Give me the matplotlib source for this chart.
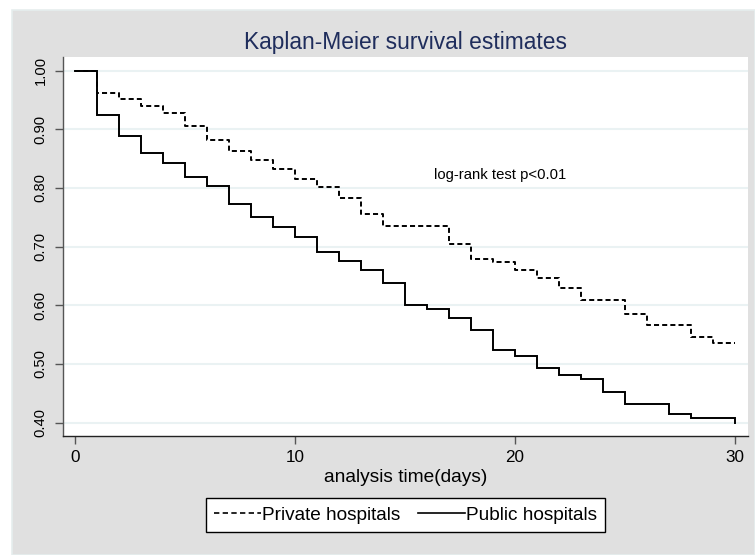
import numpy as np
import matplotlib.pyplot as plt
from matplotlib.patches import Rectangle
from matplotlib.lines import Line2D

# Kaplan-Meier ступенчатые оценки
days = list(range(0, 31))

private_surv = [1.000, 0.961, 0.952, 0.940, 0.928, 0.906, 0.881, 0.863, 0.848, 0.832,
                0.815, 0.801, 0.783, 0.756, 0.735, 0.735, 0.735, 0.705, 0.679, 0.674,
                0.660, 0.646, 0.630, 0.609, 0.609, 0.585, 0.566, 0.566, 0.546, 0.536,
                0.536]

public_surv = [1.000, 0.924, 0.889, 0.859, 0.843, 0.818, 0.804, 0.773, 0.751, 0.733,
               0.716, 0.691, 0.675, 0.660, 0.638, 0.600, 0.594, 0.579, 0.558, 0.524,
               0.513, 0.494, 0.482, 0.475, 0.453, 0.431, 0.431, 0.415, 0.408, 0.408,
               0.400]

x_ticks = [0, 10, 20, 30]
y_ticks = [0.40, 0.50, 0.60, 0.70, 0.80, 0.90, 1.00]

plt.rcParams['font.family'] = ['Liberation Sans', 'DejaVu Sans']

W, H = 755, 555
fig = plt.figure(figsize=(W / 100, H / 100), dpi=100)
fig.patch.set_facecolor('white')

# серый фон графика как в Stata
bg = Rectangle((12 / W, 0), 1 - 12 / W, 1 - 10 / H, transform=fig.transFigure,
               facecolor='#e0e0e0', edgecolor='#e6eeee', linewidth=1.2, zorder=-10)
fig.patches.append(bg)

ax = fig.add_axes([63 / W, 1 - 436 / H, (748 - 63) / W, (436 - 57) / H])
ax.set_facecolor('white')

ax.step(days, public_surv, where='post', color='black', linewidth=1.4,
        solid_joinstyle='miter', zorder=3)
ax.step(days, private_surv, where='post', color='black', linewidth=1.4,
        linestyle=(0, (2.6, 1.6)), zorder=2)

ax.set_xlim(-0.545, 30.59)
ax.set_ylim(0.3773, 1.023)

ax.set_xticks(x_ticks)
ax.set_yticks(y_ticks)
ax.set_yticklabels([f'{v:.2f}' for v in y_ticks], rotation=90, va='center')
ax.tick_params(axis='x', length=6, width=1, color='#555555', pad=4, labelsize=12.3)
ax.tick_params(axis='y', length=6, width=1, color='#555555', pad=5, labelsize=10.6)

ax.grid(True, axis='y', color='#eaf2f3', linewidth=1.5, zorder=1)
ax.set_axisbelow(True)

for s in ['top', 'right']:
    ax.spines[s].set_visible(False)
ax.spines['left'].set_color('#555555')
ax.spines['bottom'].set_color('#222222')
ax.spines['left'].set_linewidth(1.0)
ax.spines['bottom'].set_linewidth(1.0)

ax.text(16.3, 0.822, 'log-rank test p<0.01', fontsize=10.7, va='center', ha='left')

fig.text(405.5 / W, 1 - 42 / H, 'Kaplan-Meier survival estimates', fontsize=16.4,
         color='#1f2d5c', ha='center', va='center')
fig.text(405.5 / W, 1 - 478 / H, 'analysis time(days)', fontsize=13.8,
         ha='center', va='center')

handles = [Line2D([], [], color='black', linewidth=1.2, linestyle=(0, (3.2, 2.0))),
           Line2D([], [], color='black', linewidth=1.2)]
leg = fig.legend(handles, ['Private hospitals', 'Public hospitals'],
                 loc='center', bbox_to_anchor=(405.5 / W, 1 - 515 / H), ncol=2,
                 fontsize=13.7, handlelength=2.45, handletextpad=0.05,
                 columnspacing=0.95, borderpad=0.45, borderaxespad=0,
                 fancybox=False, framealpha=1, edgecolor='black')
leg.get_frame().set_linewidth(1.0)

plt.savefig('out.png', dpi=100)
